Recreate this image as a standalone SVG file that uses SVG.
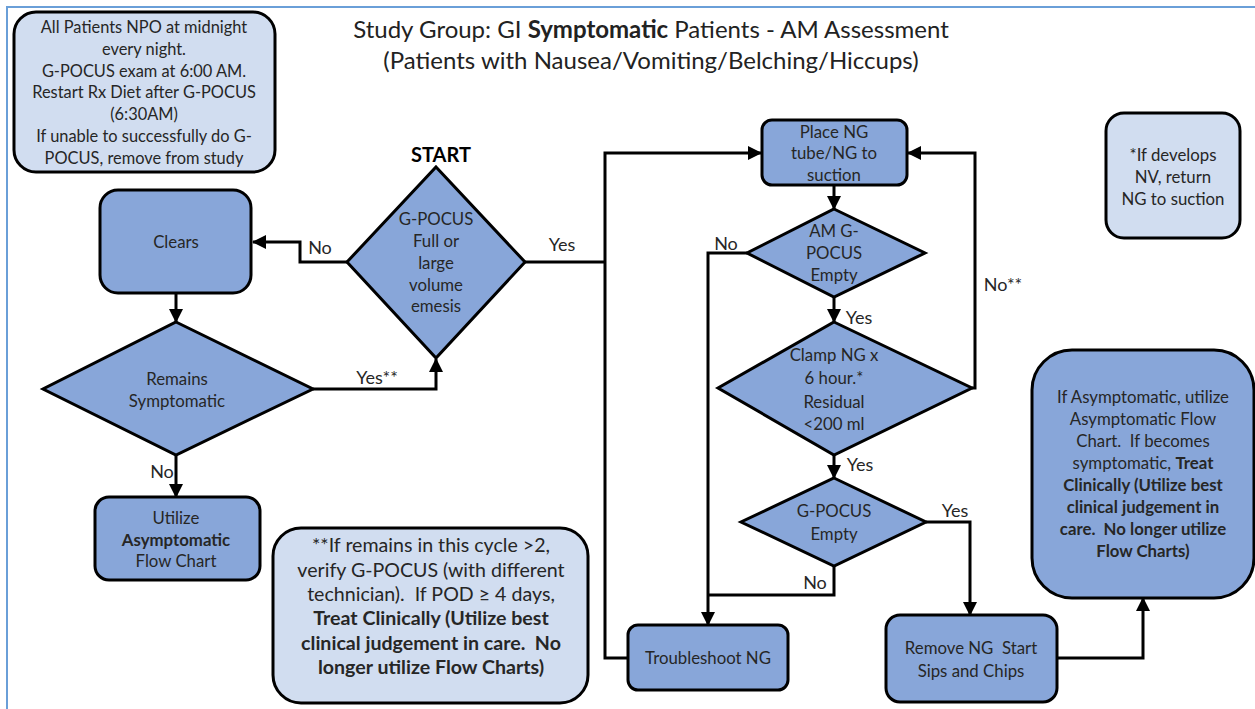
<svg xmlns="http://www.w3.org/2000/svg" width="1255" height="709" viewBox="0 0 1255 709">
<defs>
<style>
text{font-family:Lato,"Liberation Sans",sans-serif;fill:#262626;text-anchor:middle;font-size:16.8px;white-space:pre}
.b{font-weight:bold}
.node{fill:#88a6d9;stroke:#000;stroke-width:3}
.note{fill:#d1ddf0;stroke:#000;stroke-width:3}
.c{fill:none;stroke:#000;stroke-width:3}
.title{font-size:24px;fill:#222}
.lbl{font-size:18px}
.fn{font-size:19.6px}
</style>
<marker id="ah" markerUnits="userSpaceOnUse" markerWidth="14" markerHeight="14" refX="13" refY="7" orient="auto">
<path d="M0,0 L14,7 L0,14 z" fill="#000"/>
</marker>
</defs>
<rect width="1255" height="709" fill="#fff"/>
<path d="M7,709 V7 H1255" fill="none" stroke="#6a9fd8" stroke-width="2"/>

<g id="title">
<text class="title" x="651" y="38">Study Group: GI <tspan class="b">Symptomatic</tspan> Patients - AM Assessment</text>
<text class="title" x="651" y="69">(Patients with Nausea/Vomiting/Belching/Hiccups)</text>
</g>

<g id="connectors">
<path class="c" d="M347,262 H300 V242 H253" marker-end="url(#ah)"/>
<path class="c" d="M176,293 V322" marker-end="url(#ah)"/>
<path class="c" d="M313,389 H436 V359" marker-end="url(#ah)"/>
<path class="c" d="M176,455 V497" marker-end="url(#ah)"/>
<path class="c" d="M525,262 H605"/>
<path class="c" d="M628,658 H605 V153 H761" marker-end="url(#ah)"/>
<path class="c" d="M834,185 V209" marker-end="url(#ah)"/>
<path class="c" d="M747,253 H708 V625" marker-end="url(#ah)"/>
<path class="c" d="M834,566 V595 H708"/>
<path class="c" d="M834,297 V322" marker-end="url(#ah)"/>
<path class="c" d="M972,388 H975 V153 H908" marker-end="url(#ah)"/>
<path class="c" d="M834,455 V478" marker-end="url(#ah)"/>
<path class="c" d="M926,522 H970 V615" marker-end="url(#ah)"/>
<path class="c" d="M1057,658 H1143 V598" marker-end="url(#ah)"/>
<text class="lbl" x="320" y="254">No</text>
<text class="lbl" x="562" y="251">Yes</text>
<text class="lbl" x="377" y="384">Yes**</text>
<text class="lbl" x="162" y="478">No</text>
<text class="lbl" x="726" y="250">No</text>
<text class="lbl" x="859" y="324">Yes</text>
<text class="lbl" x="1003" y="291">No**</text>
<text class="lbl" x="860" y="471">Yes</text>
<text class="lbl" x="955" y="517">Yes</text>
<text class="lbl" x="815" y="589">No</text>
</g>

<g id="note-npo">
<rect class="note" x="14" y="12" width="261" height="160" rx="22"/>
<text x="144" y="33" style="font-size:16.4px">All Patients NPO at midnight</text>
<text x="144" y="55" style="font-size:16.4px">every night.</text>
<text x="144" y="77" style="font-size:16.4px">G-POCUS exam at 6:00 AM.</text>
<text x="144" y="98" style="font-size:16.4px">Restart Rx Diet after G-POCUS</text>
<text x="144" y="120" style="font-size:16.4px">(6:30AM)</text>
<text x="144" y="142" style="font-size:16.4px">If unable to successfully do G-</text>
<text x="144" y="164" style="font-size:16.4px">POCUS, remove from study</text>
</g>

<g id="start">
<text x="441" y="162" class="b" style="font-size:20px;fill:#000">START</text>
<polygon class="node" points="436,167 525,262 436,358 347,262"/>
<text x="436" y="225">G-POCUS</text>
<text x="436" y="247">Full or</text>
<text x="436" y="269">large</text>
<text x="436" y="291">volume</text>
<text x="436" y="312">emesis</text>
</g>

<g id="clears">
<rect class="node" x="100" y="190" width="151" height="103" rx="18"/>
<text x="176" y="248">Clears</text>
</g>

<g id="remains">
<polygon class="node" points="176,322 313,389 176,455 43,389"/>
<text x="177" y="385">Remains</text>
<text x="177" y="407">Symptomatic</text>
</g>

<g id="utilize">
<rect class="node" x="95" y="497" width="165" height="83" rx="14"/>
<text x="176" y="524">Utilize</text>
<text x="176" y="546" class="b">Asymptomatic</text>
<text x="176" y="567">Flow Chart</text>
</g>

<g id="note-cycle">
<rect class="note" x="273" y="528" width="315" height="175" rx="28"/>
<text x="431" y="552" class="fn">**If remains in this cycle &gt;2,</text>
<text x="431" y="577" class="fn">verify G-POCUS (with different</text>
<text x="431" y="601" class="fn">technician).  If POD ≥ 4 days,</text>
<text x="431" y="625" class="fn b">Treat Clinically (Utilize best</text>
<text x="431" y="650" class="fn b">clinical judgement in care.  No</text>
<text x="431" y="674" class="fn b">longer utilize Flow Charts)</text>
</g>

<g id="place-ng">
<rect class="node" x="762" y="120" width="145" height="65" rx="10"/>
<text x="834" y="138">Place NG</text>
<text x="834" y="159">tube/NG to</text>
<text x="834" y="181">suction</text>
</g>

<g id="am-gpocus">
<polygon class="node" points="834,209 925,253 834,297 747,253"/>
<text x="834" y="237">AM G-</text>
<text x="834" y="259">POCUS</text>
<text x="834" y="281">Empty</text>
</g>

<g id="clamp">
<polygon class="node" points="834,322 972,388 834,455 718,388"/>
<text x="834" y="361">Clamp NG x</text>
<text x="834" y="384">6 hour.*</text>
<text x="834" y="408">Residual</text>
<text x="834" y="430">&lt;200 ml</text>
</g>

<g id="gpocus-empty">
<polygon class="node" points="834,478 926,522 834,566 741,522"/>
<text x="834" y="517">G-POCUS</text>
<text x="834" y="540">Empty</text>
</g>

<g id="troubleshoot">
<rect class="node" x="628" y="625" width="160" height="65" rx="10"/>
<text x="708" y="664">Troubleshoot NG</text>
</g>

<g id="remove-ng">
<rect class="node" x="886" y="615" width="171" height="87" rx="14"/>
<text x="971" y="654">Remove NG  Start</text>
<text x="971" y="677">Sips and Chips</text>
</g>

<g id="asym">
<rect class="node" x="1032" y="350" width="222" height="248" rx="40"/>
<text x="1143" y="403">If Asymptomatic, utilize</text>
<text x="1143" y="425">Asymptomatic Flow</text>
<text x="1143" y="447">Chart.  If becomes</text>
<text x="1143" y="469">symptomatic, <tspan class="b">Treat</tspan></text>
<text x="1143" y="491" class="b">Clinically (Utilize best</text>
<text x="1143" y="513" class="b">clinical judgement in</text>
<text x="1143" y="535" class="b">care.  No longer utilize</text>
<text x="1143" y="557" class="b">Flow Charts)</text>
</g>

<g id="note-nv">
<rect class="note" x="1106" y="113" width="134" height="125" rx="18"/>
<text x="1173" y="161">*If develops</text>
<text x="1173" y="183">NV, return</text>
<text x="1173" y="205">NG to suction</text>
</g>
</svg>
